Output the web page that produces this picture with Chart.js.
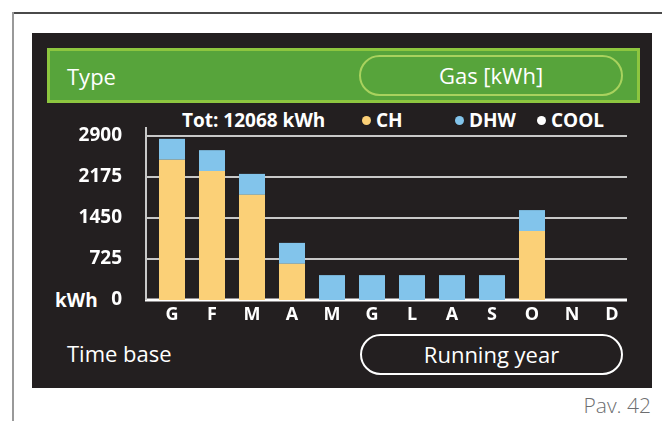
<!DOCTYPE html>
<html>
<head>
<meta charset="utf-8">
<script src="https://cdn.jsdelivr.net/npm/chart.js@4"></script>
<style>
  body { margin: 0; width: 662px; height: 421px; background: #fff; overflow: hidden; position: relative; font-family: "Open Sans", sans-serif; }
  .abs { position: absolute; }
  .frame-top { left: 12px; top: 12px; width: 650px; border-top: 2px solid #4a4a4a; }
  .frame-left { left: 12px; top: 12px; height: 409px; border-left: 2px solid #999; }
  .panel { left: 32px; top: 33px; width: 620px; height: 355px; background: #231f20; }
  .typebar { left: 47px; top: 48px; width: 593px; height: 55px; background: #57a43b; border: 3px solid #8dc63f; box-sizing: border-box; }
  .pill { box-sizing: border-box; border-radius: 22px; color: #fff; font-size: 22px; text-align: center; }
  .gas { left: 359px; top: 55px; width: 264px; height: 41px; line-height: 37px; border: 2px solid #a9d25e; }
  .run { left: 360px; top: 334px; width: 263px; height: 41px; line-height: 37px; border: 2px solid #fff; }
  .lbl { color: #fff; font-size: 22px; }
  .leg { color: #fff; font-weight: bold; font-size: 19px; top: 107px; line-height: 26px; }
  .dot { display: inline-block; width: 9px; height: 9px; border-radius: 50%; margin-right: 5px; vertical-align: 2px; }
  #wrap { left: 0; top: 0; width: 662px; height: 421px; }
</style>
</head>
<body>
<div class="abs frame-top"></div>
<div class="abs frame-left"></div>
<div class="abs panel"></div>
<div class="abs typebar"></div>
<div class="abs lbl" style="left:67px; top:61px;">Type</div>
<div class="abs pill gas">Gas [kWh]</div>
<div class="abs leg" style="left:182px;">Tot: 12068 kWh</div>
<div class="abs leg" style="left:362px;"><span class="dot" style="background:#fbd077"></span>CH</div>
<div class="abs leg" style="left:455px;"><span class="dot" style="background:#82c4eb"></span>DHW</div>
<div class="abs leg" style="left:537px;"><span class="dot" style="background:#fff"></span>COOL</div>
<div class="abs leg" style="left:55px; top:287px;">kWh</div>
<div class="abs lbl" style="left:67px; top:338px;">Time base</div>
<div class="abs pill run">Running year</div>
<div class="abs" style="right:11px; top:391px; color:#6d6e70; font-size:21px; font-weight:300;">Pav. 42</div>
<div id="wrap" class="abs"><canvas id="gasChart"></canvas></div>
<script>
const months = ["G", "F", "M", "A", "M", "G", "L", "A", "S", "O", "N", "D"];
const chValues = [2480, 2280, 1860, 640, 0, 0, 0, 0, 0, 1220, 0, 0];
const dhwValues = [370, 370, 370, 370, 440, 440, 440, 440, 440, 370, 0, 0];
const coolValues = [0, 0, 0, 0, 0, 0, 0, 0, 0, 0, 0, 0];
const yTicks = [0, 725, 1450, 2175, 2900];

// grid lines and y axis line, drawn a bit wider than the plot area
const gridLines = {
    id: "gridLines",
    beforeDatasetsDraw(chart) {
        const ctx = chart.ctx;
        const area = chart.chartArea;
        const y = chart.scales.y;
        ctx.save();
        yTicks.forEach((v) => {
            const py = Math.round(y.getPixelForValue(v));
            ctx.strokeStyle = v === 0 ? "#ffffff" : "#c8c8c8";
            ctx.lineWidth = v === 0 ? 3 : 2;
            ctx.beginPath();
            ctx.moveTo(area.left - 7, py);
            ctx.lineTo(area.right - 5, py);
            ctx.stroke();
        });
        ctx.strokeStyle = "#c8c8c8";
        ctx.lineWidth = 2;
        ctx.beginPath();
        ctx.moveTo(area.left - 6, area.top - 9);
        ctx.lineTo(area.left - 6, area.bottom);
        ctx.stroke();
        ctx.restore();
    },
};

new Chart(document.getElementById("gasChart"), {
    type: "bar",
    data: {
        labels: months,
        datasets: [
            { label: "CH", data: chValues, backgroundColor: "#fbd077" },
            { label: "DHW", data: dhwValues, backgroundColor: "#82c4eb" },
            { label: "COOL", data: coolValues, backgroundColor: "#ffffff" },
        ],
    },
    options: {
        responsive: true,
        maintainAspectRatio: false,
        animation: false,
        layout: { padding: { left: 42, right: 30, top: 136, bottom: 91 } },
        datasets: { bar: { categoryPercentage: 1, barPercentage: 0.65 } },
        scales: {
            x: {
                stacked: true,
                grid: { display: false },
                border: { display: false },
                afterFit: (s) => { s.height = 30; },
                ticks: { color: "#ffffff", padding: -4, font: { family: "Open Sans", weight: "bold", size: 18 } },
            },
            y: {
                stacked: true,
                min: 0,
                max: 2900,
                grid: { display: false },
                border: { display: false },
                afterFit: (s) => { s.width = 110; },
                afterBuildTicks: (s) => { s.ticks = yTicks.map((v) => ({ value: v })); },
                ticks: {
                    color: "#ffffff",
                    padding: 22,
                    font: { family: "Open Sans", weight: "bold", size: 19 },
                    callback: (v) => String(v),
                },
            },
        },
        plugins: {
            legend: { display: false },
            tooltip: { enabled: false },
        },
    },
    plugins: [gridLines],
});
</script>
</body>
</html>
